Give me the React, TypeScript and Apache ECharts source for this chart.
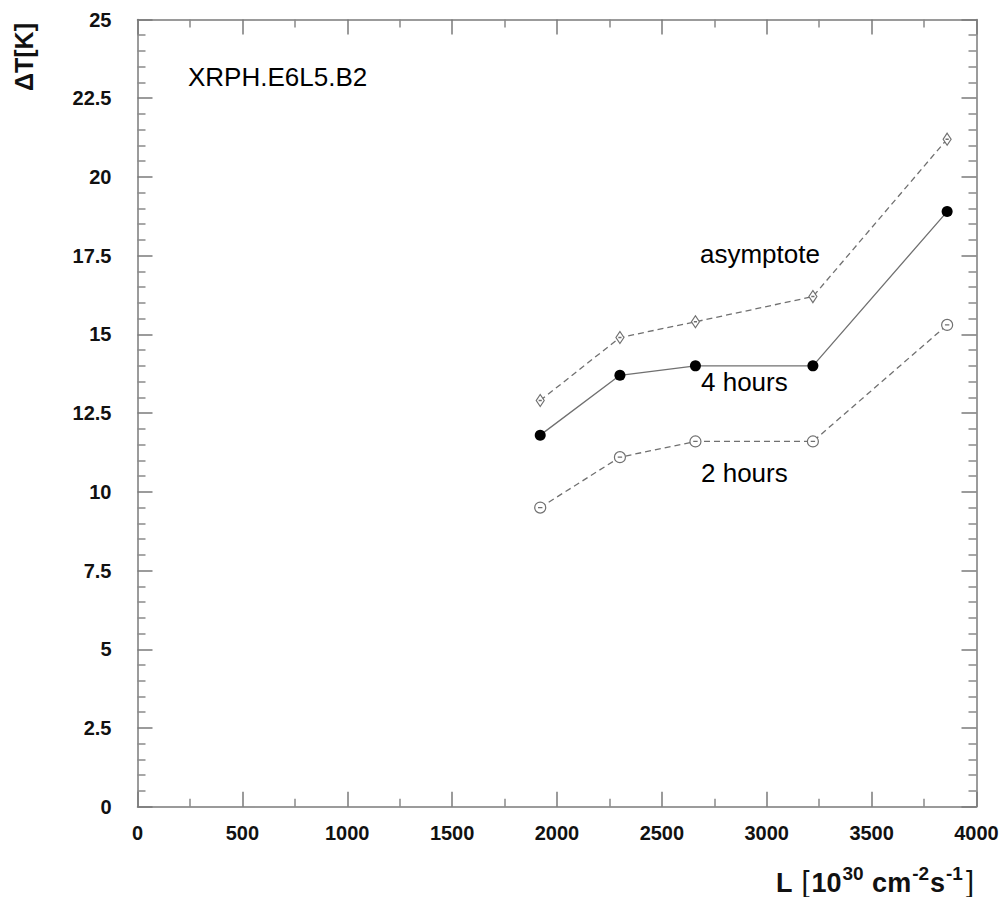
import React, { useEffect, useRef } from "react";
import * as echarts from "echarts";

// Luminosity values (x) and temperature rise for each curve
const luminosity = [1920, 2300, 2660, 3220, 3860];
const asymptote = [12.9, 14.9, 15.4, 16.2, 21.2];
const fourHours = [11.8, 13.7, 14.0, 14.0, 18.9];
const twoHours = [9.5, 11.1, 11.6, 11.6, 15.3];

const xTicks = { min: 0, max: 4000, interval: 500 };
const yTicks = { min: 0, max: 25, interval: 2.5 };

const FONT = "'Liberation Sans', Arial, Helvetica, sans-serif";
const LINE_GRAY = "#707070";
const AXIS_GRAY = "#7a7a7a";

const pair = (xs: number[], ys: number[]) => xs.map((x, i) => [x, ys[i]]);

const openCircle =
  "path://M0,10A10,10,0,1,1,20,10A10,10,0,1,1,0,10ZM6,10L14,10";
const openDiamond = "path://M5,0L10,8L5,16L0,8ZM3,8L7,8";

export default function App() {
  const ref = useRef<HTMLDivElement>(null);

  useEffect(() => {
    if (!ref.current) return;
    const chart = echarts.init(ref.current, undefined, { renderer: "svg" });

    const frameAxis = (show: boolean, split: number) => ({
      axisLine: { show: true, onZero: false, lineStyle: { color: AXIS_GRAY, width: 1.5 } },
      axisTick: { show: true, inside: true, length: 15, lineStyle: { color: AXIS_GRAY, width: 1.5 } },
      minorTick: { show: true, splitNumber: split, length: 8, lineStyle: { color: "#8a8a8a", width: 1.5 } },
      splitLine: { show: false },
      minorSplitLine: { show: false },
      axisLabel: {
        show,
        fontFamily: FONT,
        fontWeight: "bold" as const,
        fontSize: 20,
        color: "#111",
        formatter: (v: number) => String(v),
      },
    });

    const xBase = frameAxis(true, 2);
    const yBase = frameAxis(true, 5);

    const annotation = (text: string, x: number, y: number) => ({
      type: "text",
      x,
      y,
      style: {
        text,
        font: `26px ${FONT}`,
        fill: "#000",
        align: "left",
        verticalAlign: "middle",
      },
    });

    chart.setOption({
      animation: false,
      backgroundColor: "#ffffff",
      grid: { left: 137.5, right: 27.5, top: 19.5, bottom: 90.3, containLabel: false },
      xAxis: [
        {
          type: "value",
          position: "bottom",
          ...xTicks,
          ...xBase,
          axisLabel: { ...xBase.axisLabel, margin: 16 },
        },
        {
          type: "value",
          position: "top",
          ...xTicks,
          ...frameAxis(false, 2),
        },
      ],
      yAxis: [
        {
          type: "value",
          position: "left",
          ...yTicks,
          ...yBase,
          axisLabel: { ...yBase.axisLabel, margin: 26 },
        },
        {
          type: "value",
          position: "right",
          ...yTicks,
          ...frameAxis(false, 5),
        },
      ],
      series: [
        {
          name: "asymptote",
          type: "line",
          data: pair(luminosity, asymptote),
          symbol: openDiamond,
          symbolSize: [8, 12],
          lineStyle: { color: LINE_GRAY, width: 1.3, type: [6, 4] },
          itemStyle: { color: "#ffffff", borderColor: LINE_GRAY, borderWidth: 1.2 },
          z: 3,
        },
        {
          name: "4 hours",
          type: "line",
          data: pair(luminosity, fourHours),
          symbol: "circle",
          symbolSize: 11,
          lineStyle: { color: LINE_GRAY, width: 1.3, type: "solid" },
          itemStyle: { color: "#000000", borderWidth: 0 },
          z: 4,
        },
        {
          name: "2 hours",
          type: "line",
          data: pair(luminosity, twoHours),
          symbol: openCircle,
          symbolSize: 11,
          lineStyle: { color: LINE_GRAY, width: 1.3, type: [6, 4] },
          itemStyle: { color: "#ffffff", borderColor: LINE_GRAY, borderWidth: 1.2 },
          z: 3,
        },
      ],
      graphic: [
        annotation("XRPH.E6L5.B2", 188, 77),
        annotation("asymptote", 700, 254),
        annotation("4 hours", 701, 382),
        annotation("2 hours", 701, 473),
        {
          type: "text",
          x: 24,
          y: 57,
          rotation: Math.PI / 2,
          style: {
            text: "ΔT[K]",
            font: `bold 25px ${FONT}`,
            fill: "#111",
            align: "center",
            verticalAlign: "middle",
          },
        },
        {
          type: "text",
          x: 976,
          y: 896,
          style: {
            text: "{b|L }{br|[}{b|10}{sup|30}{b| cm}{sup|-2}{b|s}{sup|-1}{br|]}",
            align: "right",
            verticalAlign: "bottom",
            rich: {
              b: {
                fontFamily: FONT,
                fontWeight: "bold",
                fontSize: 27,
                lineHeight: 32,
                verticalAlign: "bottom",
                fill: "#111",
              },
              br: {
                fontFamily: FONT,
                fontWeight: "normal",
                fontSize: 29,
                lineHeight: 32,
                verticalAlign: "bottom",
                fill: "#111",
                padding: [0, 2, 0, 2],
              },
              sup: {
                fontFamily: FONT,
                fontWeight: "bold",
                fontSize: 19,
                lineHeight: 17,
                verticalAlign: "top",
                fill: "#111",
                padding: [0, 1, 0, 1],
              },
            },
          },
        },
      ],
    });

    return () => chart.dispose();
  }, []);

  return (
    <div
      ref={ref}
      style={{ position: "fixed", left: 0, top: 0, width: 1004, height: 897 }}
    />
  );
}
